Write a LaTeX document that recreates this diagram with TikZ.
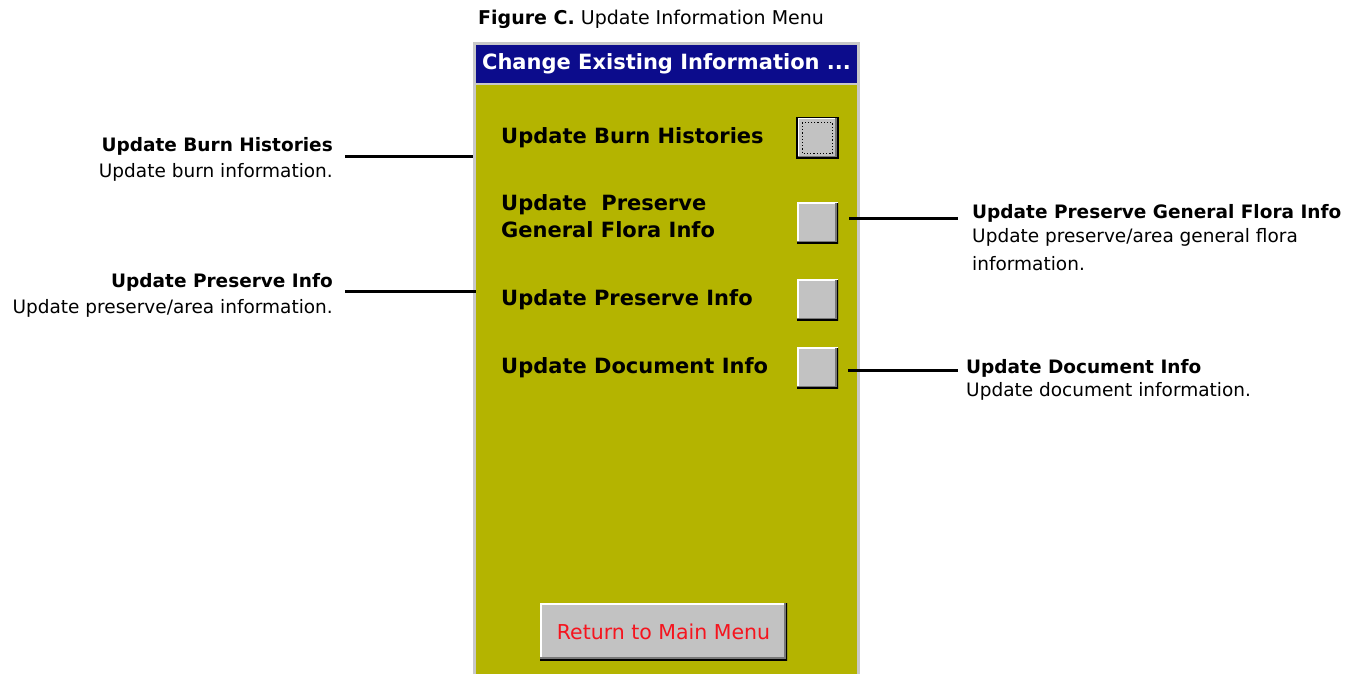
\documentclass[tikz,border=0pt]{standalone}
\usepackage{fontspec}
\setmainfont{DejaVu Sans}
\definecolor{menuolive}{RGB}{180,180,0}
\definecolor{menublue}{RGB}{12,12,140}
\definecolor{btngray}{RGB}{194,194,194}
\definecolor{btnshade}{RGB}{120,120,120}
\definecolor{framegray}{RGB}{200,200,200}
\definecolor{retred}{RGB}{245,20,30}

\begin{document}
\begin{tikzpicture}[x=1pt, y=-1pt]
\tikzset{Bevel/.style = {path picture={
    \draw[white, line width=3pt] (path picture bounding box.south west) -- (path picture bounding box.north west) -- (path picture bounding box.north east);
    \draw[btnshade, line width=6pt] (path picture bounding box.north east) -- (path picture bounding box.south east) -- (path picture bounding box.south west);
    \draw[black, line width=2.5pt] (path picture bounding box.north east) -- (path picture bounding box.south east) -- (path picture bounding box.south west);}}}
\tikzset{MenuBtn/.style = {Bevel, fill=btngray, minimum width=41pt, minimum height=41pt, inner sep=0}}
\tikzset{MenuText/.style = {inner sep=0, font=\fontsize{21}{27}\selectfont\bfseries, align=left}}
\tikzset{Head/.style = {inner sep=0, font=\fontsize{18.5}{24}\selectfont\bfseries}}
\tikzset{Desc/.style = {inner sep=0, font=\fontsize{18.5}{28}\selectfont, align=left}}
\tikzset{Callout/.style = {line width=3pt}}
  \useasboundingbox (0,0) rectangle (1356,674);
  % caption
  \node[inner sep=0, anchor=base west, font=\fontsize{19}{23}\selectfont] (caption) at (478,25) {\textbf{Figure C.} Update Information Menu};
  % the form
  \node[fill=framegray, minimum width=387pt, minimum height=632pt, inner sep=0] (panel) at (666.5,358) {};
  \node[fill=menublue, minimum width=381pt, minimum height=38pt, inner sep=0, text=white,
        font=\fontsize{21}{25}\selectfont\bfseries] (title) at (666.5,64) {Change Existing Information ...};
  \fill[menuolive] (476,85) rectangle (857,674);
  \node[MenuText, anchor=base west] (burntxt) at (501,143) {Update Burn Histories};
  \node[MenuText, anchor=north west] (floratxt) at (501,194) {Update\ \ Preserve\\General Flora Info};
  \node[MenuText, anchor=base west] (prestxt) at (501,305) {Update Preserve Info};
  \node[MenuText, anchor=base west] (doctxt) at (501,373) {Update Document Info};
  \node[MenuBtn, draw=black, line width=1.5pt] (burnbtn) at (817.5,138) {};
  \draw[black, dotted, line width=1.2pt] ([shift={(6pt,-6pt)}]burnbtn.north west) rectangle ([shift={(-6pt,6pt)}]burnbtn.south east);
  \node[MenuBtn] (florabtn) at (817.5,223) {};
  \node[MenuBtn] (presbtn) at (817.5,300) {};
  \node[MenuBtn] (docbtn) at (817.5,368) {};
  \node[Bevel, fill=btngray, minimum width=247pt, minimum height=57pt, inner sep=0, text=retred,
        font=\fontsize{20.5}{24}\selectfont] (retbtn) at (663.5,631.5) {Return to Main Menu};
  % left notes
  \node[Head, anchor=base east] (burnhead) at (333,151) {Update Burn Histories};
  \node[Desc, anchor=base east] (burndesc) at ([yshift=-26pt]burnhead.base east) {Update burn information.};
  \node[Head, anchor=base east] (preshead) at (333,287) {Update Preserve Info};
  \node[Desc, anchor=base east] (presdesc) at ([yshift=-26pt]preshead.base east) {Update preserve/area information.};
  % right notes
  \node[Head, anchor=base west] (florahead) at (972,218) {Update Preserve General Flora Info};
  \node[Desc, anchor=north west] (floradesc) at ([yshift=-10pt]florahead.base west) {Update preserve/area general flora\\information.};
  \node[Head, anchor=base west] (dochead) at (966,373) {Update Document Info};
  \node[Desc, anchor=base west] (docdesc) at ([yshift=-23pt]dochead.base west) {Update document information.};
  % connectors
  \draw[Callout] ([shift={(12pt,-5pt)}]burnhead.base east) -- ([yshift=-5pt]panel.west |- burnhead.base east);
  \draw[Callout] ([shift={(12pt,-4pt)}]preshead.base east) -- ([shift={(3pt,-4pt)}]panel.west |- preshead.base east);
  \draw[Callout] ([xshift=11pt]florabtn.east |- florahead.base west) -- ([xshift=-14pt]florahead.base west);
  \draw[Callout] ([shift={(10pt,3pt)}]docbtn.east |- dochead.base west) -- ([shift={(-8pt,3pt)}]dochead.base west);
\end{tikzpicture}
\end{document}
